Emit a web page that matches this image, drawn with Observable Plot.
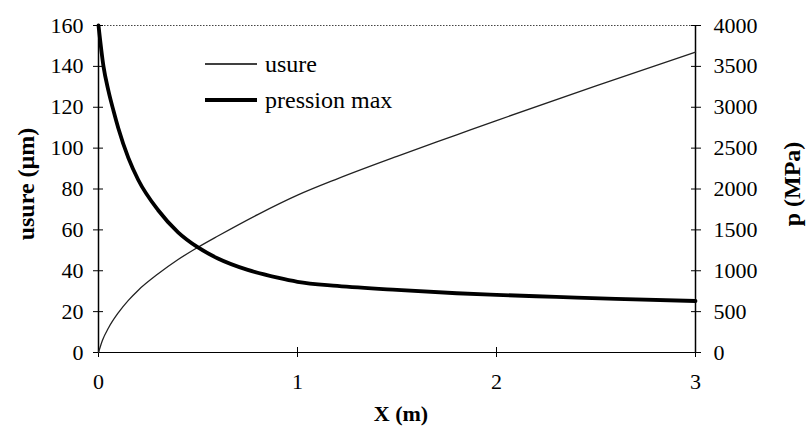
<!DOCTYPE html>
<html><head><meta charset="utf-8">
<script src="https://cdn.jsdelivr.net/npm/d3@7"></script>
<script src="https://cdn.jsdelivr.net/npm/@observablehq/plot@0.6"></script>
<style>
body{margin:0;background:#fff;}
#wrap{position:relative;width:807px;height:430px;}
#legend{position:absolute;left:0;top:0;width:807px;height:430px;pointer-events:none;}
svg text{font-family:"Liberation Serif","Times New Roman","DejaVu Serif",serif;}
</style></head><body>
<div id="wrap"><div id="chart"></div><div id="legend"></div></div>
<script>
// wear curve (µm, left axis)
const xUsure = [0, 0.02, 0.05, 0.1, 0.15, 0.2, 0.3, 0.4, 0.5, 0.6, 0.8, 1.0, 1.2, 1.5, 1.8, 2.0, 2.5, 3.0];
const usure  = [0, 6, 12, 19.5, 25.5, 30.5, 38.5, 45.5, 51.5, 57, 67.5, 77, 85, 96, 106.5, 113.5, 130.5, 147];
// max pressure curve (MPa, right axis)
const xPression = [0, 0.025, 0.05, 0.075, 0.1, 0.15, 0.2, 0.3, 0.4, 0.5, 0.6, 0.75, 0.9, 1.0, 1.2, 1.5, 1.8, 2.0, 2.3, 2.6, 3.0];
const pression  = [4000, 3500, 3200, 2960, 2740, 2380, 2110, 1740, 1470, 1285, 1150, 1010, 915, 865, 815, 765, 725, 705, 680, 655, 630];
// ticks
const xTicks = [0, 1, 2, 3];
const usureTicks = [0, 20, 40, 60, 80, 100, 120, 140, 160];
const pressionTicks = [0, 500, 1000, 1500, 2000, 2500, 3000, 3500, 4000];
const usureMax = 160, pressionMax = 4000;
const k = pressionMax / usureMax;

const legendLabels = ["usure", "pression max"];

const uData = xUsure.map((x, i) => ({x, v: usure[i]}));
const pData = xPression.map((x, i) => ({x, p: pression[i]}));

const font = '"Liberation Serif", "Times New Roman", "DejaVu Serif", serif';

const chart = Plot.plot({
  width: 807, height: 430,
  marginLeft: 98, marginRight: 112, marginTop: 25, marginBottom: 78,
  style: {fontFamily: font, fontSize: "22px", color: "#000", background: "#fff"},
  x: {domain: [0, 3]},
  y: {domain: [0, usureMax]},
  marks: [
    Plot.ruleY([usureMax], {stroke: "#444", strokeWidth: 1, strokeDasharray: "1.5,1.5"}),
    Plot.ruleY([0], {stroke: "#000", strokeWidth: 1.2}),
    Plot.ruleX([0], {stroke: "#000", strokeWidth: 1.5}),
    Plot.ruleX([3], {stroke: "#000", strokeWidth: 1.5}),
    // crossing tick marks
    Plot.axisY(usureTicks, {anchor: "left", tickSize: 10, dx: 5, tickFormat: () => "", label: null}),
    Plot.axisY(usureTicks, {anchor: "left", tickSize: 0, tickPadding: 15, tickFormat: d => String(d), label: null}),
    Plot.axisY(pressionTicks.map(p => p / k), {anchor: "right", tickSize: 10, dx: -5, tickFormat: () => "", label: null}),
    Plot.axisY(pressionTicks.map(p => p / k), {anchor: "right", tickSize: 0, tickPadding: 18, tickFormat: d => String(Math.round(d * k)), label: null}),
    Plot.axisX(xTicks, {tickSize: 10, dy: -5, tickFormat: () => "", label: null}),
    Plot.axisX(xTicks, {tickSize: 0, tickPadding: 21, tickFormat: d => String(d), label: null}),
    // titles
    Plot.text(["usure (µm)"], {frameAnchor: "left", rotate: -90, dx: -72, dy: -5, textAnchor: "middle", lineAnchor: "middle", fontWeight: "bold", fontSize: 24}),
    Plot.text(["p (MPa)"], {frameAnchor: "right", rotate: -90, dx: 97, dy: -5, textAnchor: "middle", lineAnchor: "middle", fontWeight: "bold", fontSize: 24}),
    Plot.text(["X (m)"], {frameAnchor: "bottom", dy: 61, dx: 4, textAnchor: "middle", lineAnchor: "middle", fontWeight: "bold", fontSize: 22}),
    // curves
    Plot.line(uData, {x: "x", y: "v", stroke: "#222", strokeWidth: 1.3, curve: "monotone-x"}),
    Plot.line(pData, {x: "x", y: d => d.p / k, stroke: "#000", strokeWidth: 3.8, curve: "monotone-x"})
  ]
});
document.getElementById("chart").appendChild(chart);

// legend overlay
const leg = d3.select("#legend").append("svg").attr("width", 807).attr("height", 430)
  .style("font-size", "24px");
const rows = [{label: legendLabels[0], w: 1.5, y: 64}, {label: legendLabels[1], w: 3.8, y: 100}];
rows.forEach(r => {
  leg.append("line").attr("x1", 205).attr("x2", 257).attr("y1", r.y).attr("y2", r.y)
    .attr("stroke", "#000").attr("stroke-width", r.w);
  leg.append("text").attr("x", 265).attr("y", r.y).attr("dy", "0.32em").text(r.label);
});
</script>
</body></html>
